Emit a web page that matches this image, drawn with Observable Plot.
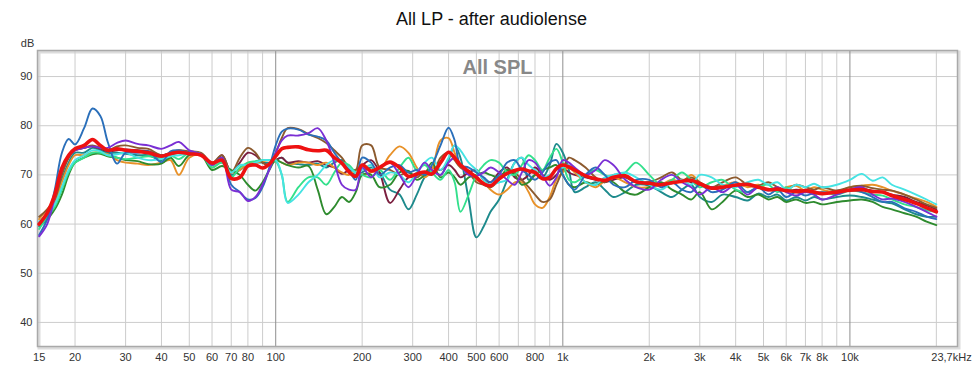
<!DOCTYPE html>
<html>
<head>
<meta charset="utf-8">
<script src="https://cdn.jsdelivr.net/npm/d3@7"></script>
<script src="https://cdn.jsdelivr.net/npm/@observablehq/plot@0.6"></script>
<style>
  html, body { margin: 0; padding: 0; background: #fff; }
  svg { display: block; }
</style>
</head>
<body>
<div id="chart"></div>
<script>
const title = "All LP - after audiolense";
const subtitle = "All SPL";
const yUnit = "dB";

const freqs = [
15,16,17,18,19,20,21.5,23,24.5,26,
28,30,33,36,40,43,46,50,55,60,
65,70,75,80,85,90,95,100,105,110,
120,130,140,150,160,170,180,190,200,215,
230,250,270,290,310,330,350,375,400,420,
440,470,500,530,560,600,640,680,720,760,
800,850,900,950,1000,1050,1100,1200,1300,1400,
1500,1650,1800,2000,2200,2400,2600,2800,3000,3300,
3600,4000,4400,4800,5200,5600,6000,6500,7000,7500,
8000,9000,10000,11000,12000,13000,14000,15500,17000,18500,
20000];

const blue = [
57.8,61,67,74.5,77.3,76.2,79.5,83.5,82,76.7,
72.3,74.5,74.5,74.8,72.6,74.8,75,74.5,74.2,72.3,
73.5,68,66.5,65,65.3,67.5,71.5,76,78.8,79.4,
79.2,78.2,77.8,77,74.5,72.5,71,69,73.5,72.5,
70,71.5,72,70.5,71,70,72,76,79.6,77,
72,71.5,70.5,69.5,68.5,70,72.5,73,71,70,
69,70.5,72.5,73,70,68,67,70,71.5,70,
68,67.5,69,69,67.5,68.5,67,66.5,68,66.5,
67,68.5,66.5,67.5,66,67,65.5,66.5,65.8,66.3,
66.5,66.2,67,66.5,65.5,64.5,64.5,63.2,62.5,61.5,
61];

const cyan = [
60.5,62,64,67.5,71,73,74,75,74.8,74,
74.2,74.5,73.5,73,73.2,73.8,74,74.3,74,72,
73,70.5,72,72,72.5,73,73,73,70,64.3,
66,68.5,70,72,73,72.5,71.5,70.5,71,72,
69.5,70.5,70,68.5,70.5,72.5,73.5,71,73.5,76,
75,72.5,71,69,68,68.5,69,72.5,73.5,72,
71,69.5,70,71,71.5,72,71,68.5,68,69.5,
70,70.5,69.5,68,67,68.5,69,68,70,69.5,
68,67.5,68.5,69,68,68.5,67,68,67.5,68.2,
67.5,68,69,70.2,68.8,69.5,68,67,66,65,
64];

const purple = [
57.5,60,65.5,71,74,75,75.5,75.8,75.5,75.5,
76.5,77,76.3,76,75.3,76,76.7,75,74.2,72,
73.5,67,66.5,64.7,65.5,68,71,74.5,77,78,
78,78.5,79.5,77,72.5,68,67,67,71.5,69.5,
71.5,72.5,70,67.5,70,72.5,71,70,72.5,73.5,
72,70,69.8,70.5,71.5,70.5,69,68,70.5,73,
72.5,70,67.8,69.5,73,72.5,71.5,70,71,73,
72,69,67.5,67,69,70,68.5,67.5,66,67.5,
66.5,68,66,67.5,66.8,67.5,66.5,65.8,66.5,66,
65,66,67,67.5,66,65,65.2,64.5,63.5,62.5,
61.5];

const brown = [
61.5,63,65,70,73.5,75,75.5,76,75.5,75,
75.8,76,75.5,75.3,74,74.5,75,74.8,74.5,72.5,
74,70.5,73.5,75.5,74.5,72.5,72,74.5,77.5,79.5,
79.3,78.3,77.5,76.5,75,73.5,71.5,71,76,76,
71.5,71,70,70.5,69.5,70.5,70,73.5,74.5,73,
71.5,70.5,68.5,68,67.5,69,71,70.5,69,67.5,
66,64.5,65,68,71,73.5,73,71.5,69.5,68.5,
70,69.5,68.5,68.5,69.5,70.5,69,69.5,68.5,67.5,
68.5,69.5,68,67.8,68.5,67.5,67,68,67.5,67,
67.5,66.8,67.5,67.8,67.3,67,66.8,66,65,64,
63.3];

const orange = [
61,63,64.5,68.5,72,74,74,74.5,74.5,74.2,
73,72.5,72.3,72,72.5,73,70,73.5,74,71.5,
73,70.5,71,72.5,72.5,72.8,73,73,72.5,72,
72.5,72.5,72,72.5,71.5,70.5,70,71,70,70.5,
71,74,75.8,74.5,71.5,69.5,71,77,77.5,74.5,
72,70.5,69,68.5,67,66,67,68.5,68.5,66.5,
64,63.3,65.5,69,70.5,71.5,70.5,68.5,67.5,68.8,
69.5,68.5,67.5,67.5,68,69,68.5,70,68.5,67.2,
67.8,68.5,67.5,68,67,66.8,67.5,67.8,66.8,67.5,
67,66.5,67.5,67.8,68,67.5,66.8,66,65.2,64.5,
63.5];

const green = [
60,61,63,66,70,72.5,73.5,74.2,74.3,73.8,
73.5,73,72.8,72.2,72.3,73.5,71.8,74,74,71,
71.8,71,70,68,66.8,68.5,71,73,72.5,72,
71.5,71.8,67,62,63.5,65.5,64.5,66.5,70,70,
67.5,68,70.5,70.8,69,70,72.5,69.5,70.5,69.5,
68,69.5,70,70.5,70,69.5,71,70,68,68.5,
70,71,71.5,72,70,68,67.5,68.5,68,69,
68.5,66.5,66,67.5,68.5,67,66,65,66.5,63,
64.5,66.8,65.5,66,65,65.5,64.5,65,64.3,64.5,
64,64.5,64.8,65,64.5,63.5,63,62.2,61.5,60.5,
59.8];

const spring = [
59,61.5,63.5,67,70.5,72.5,73.5,74.5,74.5,74,
73.5,73.2,73.5,73.8,73.5,74,73.2,74.5,74.2,71.5,
72.5,69.5,71.5,72.5,72.8,73,73,72.8,70,64.5,
67.5,69.5,69.5,68,70.5,72.5,72,70.5,70,69.5,
71,69,71.5,73.5,71,72,70.5,69,71,68.5,
62.5,66,70,72,73,72.5,70.5,70,72,74,
73,71,73.5,75.3,72.5,69,68.5,70,71,70,
69.5,70.5,72.5,70,68,69,70.5,69,67.5,68.5,
69,67,66.5,67.5,68,66.5,67.5,66.5,67,66,
66.5,66,66.8,66.5,66,65.8,65,64,63.5,62.8,
62.5];

const teal = [
59.5,61,64,69,72.5,74.5,74.5,75.5,75,74.5,
74.5,74.3,74,74,73,74,74.5,74.5,74,72,
72.5,70,71,72,72.5,72.5,72.5,73,73.5,72.5,
72.2,72,72.3,71.5,72.5,73,71,70,70.5,71.5,
70.5,67,66,63,66,69.5,71,70,73,76,
73.5,65,57.3,59.5,62.5,65,69,72.5,73.5,69,
70,69.5,72,76.3,74.5,71,66.5,67.5,68.5,67,
65.5,66.5,68,67.8,66.5,65.5,67,68,65.5,64.5,
66,65.5,64.8,66.2,65.5,66,64.8,65.5,64.8,65.5,
65,65.5,65.8,65.5,65,64.5,64.2,63,62,61.5,
61.5];

const maroon = [
60,62,65.5,70.5,73.5,75,75.5,75.8,75.3,74.8,
75,75.2,75,74.8,74,74.5,74.8,74.5,74.3,72.2,
74,70.5,72.5,74.5,74,72.5,72,73,73.5,72.5,
72.8,72.5,72.8,72,71.5,70.2,71,71,72,73,
70.5,64.3,67,69.5,70,70.5,71.5,71,72,71,
69.5,70.5,71,69,68.5,70.5,71.5,69.5,69,70,
71.5,70,69,70,71.5,70.5,70,69.5,69,68.5,
69,69.5,68.5,68.5,68,68.3,69,68.5,68,67.5,
67.8,68,67.8,67.5,67,67.2,66.8,67,66.8,66.5,
66.3,66.8,67,67.2,66.8,66.5,66,65.5,64.5,63.8,
63];

const average = [
60,62.3,66,71.4,74,75.3,76,77.2,76,75,
75.3,75,74.8,74.5,73.8,74.3,74.6,74.3,74,72.4,
73,69.3,69.5,71.8,72,71.4,72.2,73.8,75.3,75.6,
75.7,75.1,74.9,75,73.5,72.4,70.6,69.7,72,70.8,
71.5,72.6,71.5,69.7,70.2,70.6,70.2,72.5,74.6,73.5,
72,70.7,69.5,68.2,67.8,69.2,70.3,70.9,71.2,70.8,
70.5,69.2,69.5,71.3,72,71.6,71,69.8,69.2,68.9,
69.5,69.8,68.6,68.3,68,68.4,68.7,68.9,68.2,67.3,
67.5,67.9,68.1,67.5,67,67.1,66.8,66.6,66.8,66.5,
66.2,66.5,66.9,67,66.6,66.5,65.8,65,64.2,63.3,
62.5];

const seriesNames = ["teal", "maroon", "orange", "brown", "green", "spring", "cyan", "blue", "purple"];
const seriesValues = [teal, maroon, orange, brown, green, spring, cyan, blue, purple];
const seriesColors = ["#1d8a8c", "#7b1f3f", "#e89128", "#8c5a2e", "#2e8b2e", "#33e08c", "#45e3e3", "#2a6fba", "#7a2fd4"];
const averageColor = "#ee1111";

const xTicks = [15,20,30,40,50,60,70,80,100,200,300,400,500,600,800,1000,2000,3000,4000,5000,6000,7000,8000,10000];
const xTickLabels = ["15","20","30","40","50","60","70","80","100","200","300","400","500","600","800","1k","2k","3k","4k","5k","6k","7k","8k","10k"];
const xEndLabel = "23,7kHz";
const xEnd = 23700;
const minorGrid = [20,30,40,50,60,70,80,90,200,300,400,500,600,700,800,900,2000,3000,4000,5000,6000,7000,8000,9000,20000];
const decadeGrid = [100,1000,10000];
const yTicks = [40,50,60,70,80,90];

const rows = seriesValues.flatMap((vals, k) =>
  freqs.map((f, i) => ({f, db: vals[i], s: seriesNames[k]})));
const avgRows = freqs.map((f, i) => ({f, db: average[i]}));
const xLabelRows = xTicks.map((f, i) => ({f, label: xTickLabels[i]}));

const chart = Plot.plot({
  width: 975,
  height: 366,
  marginLeft: 37,
  marginRight: 18,
  marginTop: 50,
  marginBottom: 20,
  style: {fontFamily: "'Liberation Sans', Arial, sans-serif", fontSize: "11px", color: "#333", background: "#fff"},
  x: {type: "log", domain: [14.8, xEnd], axis: null},
  y: {domain: [35.1, 95.3], axis: null},
  color: {domain: seriesNames, range: seriesColors},
  marks: [
    Plot.frame({stroke: "#dcdcdc", strokeWidth: 3, dx: 1.5, dy: 1.5}),
    Plot.ruleY(yTicks, {stroke: "#cccccc", strokeWidth: 1}),
    Plot.ruleX(minorGrid, {stroke: "#cccccc", strokeWidth: 1}),
    Plot.ruleX(decadeGrid, {stroke: "#8f8f8f", strokeWidth: 1}),
    Plot.frame({stroke: "#a9a9a9", strokeWidth: 1.5, fill: "none"}),
    Plot.text(xLabelRows, {x: "f", text: "label", frameAnchor: "bottom", lineAnchor: "middle", dy: 11, fill: "#333"}),
    Plot.text([{f: xEnd, label: xEndLabel}], {x: "f", text: "label", frameAnchor: "bottom", lineAnchor: "middle", dy: 11, dx: -6, fill: "#333"}),
    Plot.axisY({ticks: yTicks, tickSize: 0, tickPadding: 5, fill: "#333", label: null}),
    Plot.text([yUnit], {frameAnchor: "top-left", lineAnchor: "middle", dx: -10, dy: -7, textAnchor: "middle", fill: "#333"}),
    Plot.text([title], {frameAnchor: "top", lineAnchor: "middle", dy: -31, dx: -6, fontSize: 18, fill: "#111"}),
    Plot.text([subtitle], {frameAnchor: "top", lineAnchor: "middle", dy: 17, fontSize: 20, fontWeight: "bold", fill: "#888"}),
    Plot.line(rows, {x: "f", y: "db", z: "s", stroke: "s", strokeWidth: 1.9, curve: "catmull-rom"}),
    Plot.line(avgRows, {x: "f", y: "db", stroke: averageColor, strokeWidth: 3.6, curve: "catmull-rom"})
  ]
});
document.getElementById("chart").append(chart);
</script>
</body>
</html>
